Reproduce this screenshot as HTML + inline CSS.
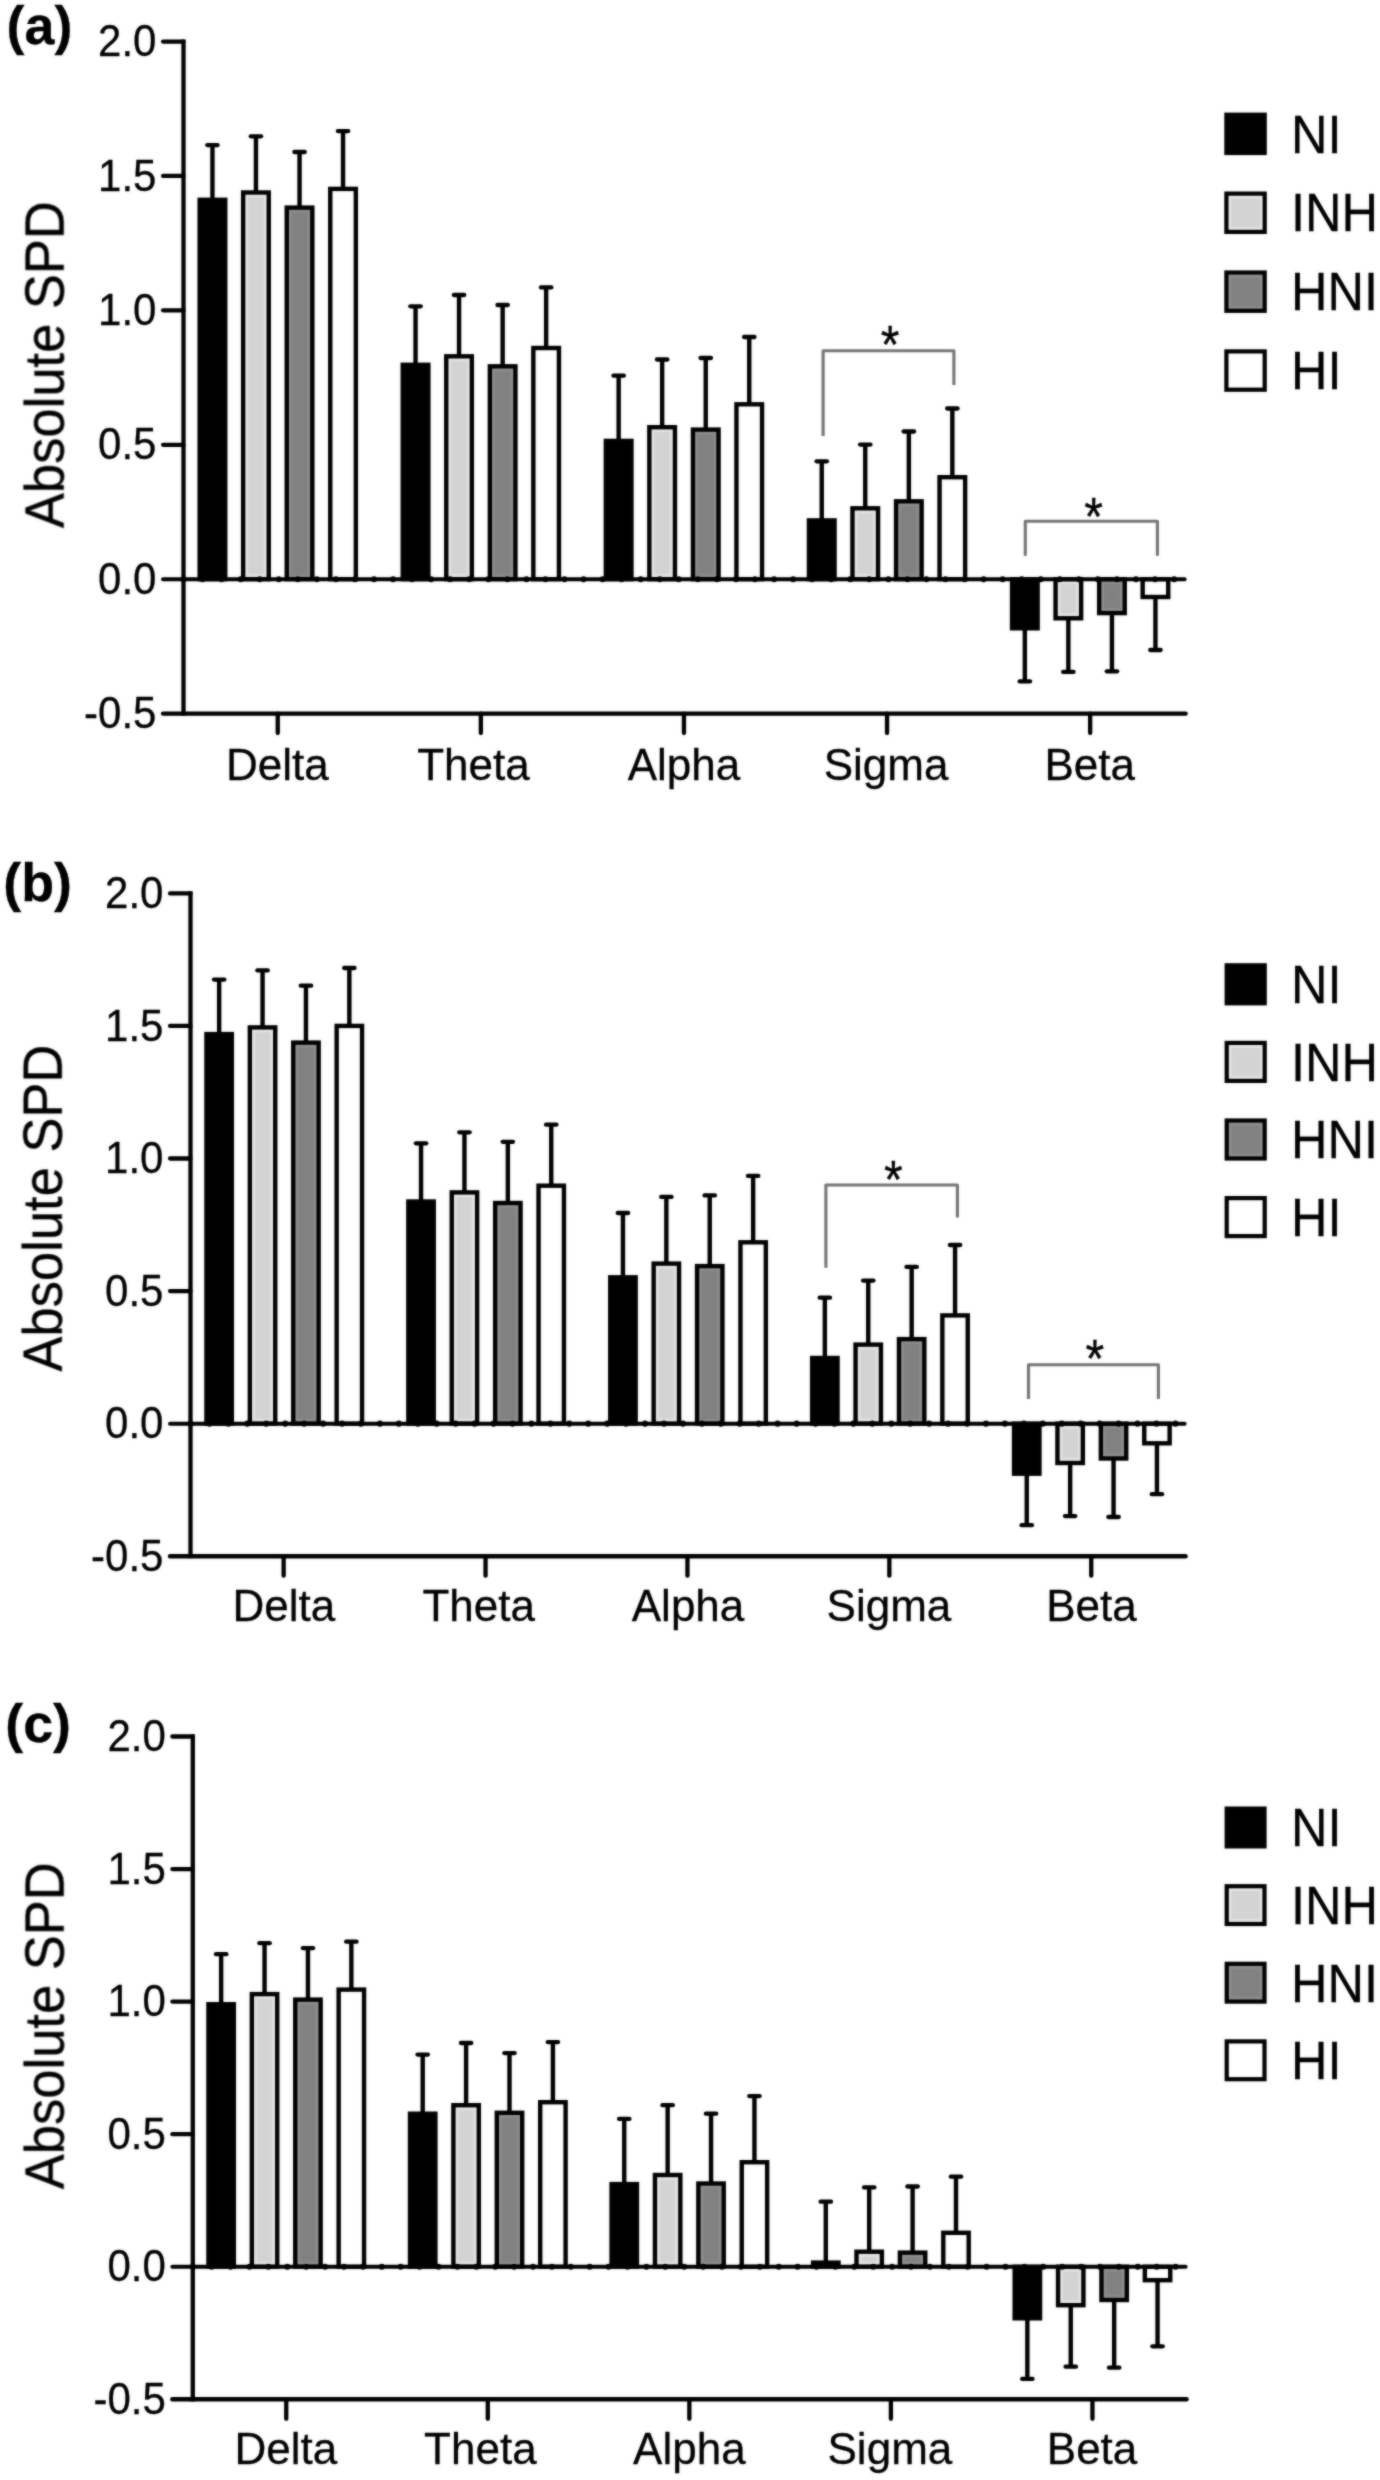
<!DOCTYPE html>
<html lang="en">
<head>
<meta charset="utf-8">
<title>Absolute SPD by frequency band</title>
<style>
html,body{margin:0;padding:0;background:#fff;}
body{width:1380px;height:2480px;overflow:hidden;}
svg{display:block;}
svg text{font-family:'Liberation Sans', sans-serif;stroke:#000;stroke-width:0.3px;}
</style>
</head>
<body>
<svg width="1380" height="2480" viewBox="0 0 1380 2480">
<defs><filter id="soft" x="0" y="0" width="100%" height="100%" filterUnits="userSpaceOnUse" color-interpolation-filters="sRGB"><feGaussianBlur in="SourceGraphic" stdDeviation="0.85" result="b"/><feComposite in="SourceGraphic" in2="b" operator="arithmetic" k1="0" k2="0.45" k3="0.55" k4="0"/></filter></defs>
<rect width="1380" height="2480" fill="#fff"/>
<g filter="url(#soft)">
<g>
<line x1="212.45" y1="579.19" x2="212.45" y2="145.1" stroke="#000" stroke-width="4.4"/>
<line x1="207.25" y1="145.1" x2="217.65" y2="145.1" stroke="#000" stroke-width="4.3" stroke-linecap="round"/>
<rect x="199.65" y="199.8" width="25.6" height="379.39" fill="#000000" stroke="#000" stroke-width="4.4"/>
<line x1="255.95" y1="579.19" x2="255.95" y2="136.3" stroke="#000" stroke-width="4.4"/>
<line x1="250.75" y1="136.3" x2="261.15" y2="136.3" stroke="#000" stroke-width="4.3" stroke-linecap="round"/>
<rect x="243.15" y="192.5" width="25.6" height="386.69" fill="#e6e6e6" stroke="#000" stroke-width="4.4"/>
<rect x="247.95" y="197.3" width="16" height="377.09" fill="#d3d3d3"/>
<line x1="299.55" y1="579.19" x2="299.55" y2="152" stroke="#000" stroke-width="4.4"/>
<line x1="294.35" y1="152" x2="304.75" y2="152" stroke="#000" stroke-width="4.3" stroke-linecap="round"/>
<rect x="286.75" y="207.6" width="25.6" height="371.59" fill="#8e8e8e" stroke="#000" stroke-width="4.4"/>
<rect x="291.55" y="212.4" width="16" height="361.99" fill="#818181"/>
<line x1="343.05" y1="579.19" x2="343.05" y2="131.1" stroke="#000" stroke-width="4.4"/>
<line x1="337.85" y1="131.1" x2="348.25" y2="131.1" stroke="#000" stroke-width="4.3" stroke-linecap="round"/>
<rect x="330.25" y="188.9" width="25.6" height="390.29" fill="#ffffff" stroke="#000" stroke-width="4.4"/>
<line x1="415.55" y1="579.19" x2="415.55" y2="306.3" stroke="#000" stroke-width="4.4"/>
<line x1="410.35" y1="306.3" x2="420.75" y2="306.3" stroke="#000" stroke-width="4.3" stroke-linecap="round"/>
<rect x="402.75" y="364.8" width="25.6" height="214.39" fill="#000000" stroke="#000" stroke-width="4.4"/>
<line x1="459.05" y1="579.19" x2="459.05" y2="295" stroke="#000" stroke-width="4.4"/>
<line x1="453.85" y1="295" x2="464.25" y2="295" stroke="#000" stroke-width="4.3" stroke-linecap="round"/>
<rect x="446.25" y="356.3" width="25.6" height="222.89" fill="#e6e6e6" stroke="#000" stroke-width="4.4"/>
<rect x="451.05" y="361.1" width="16" height="213.29" fill="#d3d3d3"/>
<line x1="502.65" y1="579.19" x2="502.65" y2="305" stroke="#000" stroke-width="4.4"/>
<line x1="497.45" y1="305" x2="507.85" y2="305" stroke="#000" stroke-width="4.3" stroke-linecap="round"/>
<rect x="489.85" y="366.3" width="25.6" height="212.89" fill="#8e8e8e" stroke="#000" stroke-width="4.4"/>
<rect x="494.65" y="371.1" width="16" height="203.29" fill="#818181"/>
<line x1="546.15" y1="579.19" x2="546.15" y2="287.4" stroke="#000" stroke-width="4.4"/>
<line x1="540.95" y1="287.4" x2="551.35" y2="287.4" stroke="#000" stroke-width="4.3" stroke-linecap="round"/>
<rect x="533.35" y="348" width="25.6" height="231.19" fill="#ffffff" stroke="#000" stroke-width="4.4"/>
<line x1="618.65" y1="579.19" x2="618.65" y2="375.7" stroke="#000" stroke-width="4.4"/>
<line x1="613.45" y1="375.7" x2="623.85" y2="375.7" stroke="#000" stroke-width="4.3" stroke-linecap="round"/>
<rect x="605.85" y="440.9" width="25.6" height="138.29" fill="#000000" stroke="#000" stroke-width="4.4"/>
<line x1="662.15" y1="579.19" x2="662.15" y2="359.5" stroke="#000" stroke-width="4.4"/>
<line x1="656.95" y1="359.5" x2="667.35" y2="359.5" stroke="#000" stroke-width="4.3" stroke-linecap="round"/>
<rect x="649.35" y="427.2" width="25.6" height="151.99" fill="#e6e6e6" stroke="#000" stroke-width="4.4"/>
<rect x="654.15" y="432" width="16" height="142.39" fill="#d3d3d3"/>
<line x1="705.75" y1="579.19" x2="705.75" y2="358" stroke="#000" stroke-width="4.4"/>
<line x1="700.55" y1="358" x2="710.95" y2="358" stroke="#000" stroke-width="4.3" stroke-linecap="round"/>
<rect x="692.95" y="429.6" width="25.6" height="149.59" fill="#8e8e8e" stroke="#000" stroke-width="4.4"/>
<rect x="697.75" y="434.4" width="16" height="139.99" fill="#818181"/>
<line x1="749.25" y1="579.19" x2="749.25" y2="337" stroke="#000" stroke-width="4.4"/>
<line x1="744.05" y1="337" x2="754.45" y2="337" stroke="#000" stroke-width="4.3" stroke-linecap="round"/>
<rect x="736.45" y="404.3" width="25.6" height="174.89" fill="#ffffff" stroke="#000" stroke-width="4.4"/>
<line x1="821.75" y1="579.19" x2="821.75" y2="461.3" stroke="#000" stroke-width="4.4"/>
<line x1="816.55" y1="461.3" x2="826.95" y2="461.3" stroke="#000" stroke-width="4.3" stroke-linecap="round"/>
<rect x="808.95" y="520.4" width="25.6" height="58.79" fill="#000000" stroke="#000" stroke-width="4.4"/>
<line x1="865.25" y1="579.19" x2="865.25" y2="444.6" stroke="#000" stroke-width="4.4"/>
<line x1="860.05" y1="444.6" x2="870.45" y2="444.6" stroke="#000" stroke-width="4.3" stroke-linecap="round"/>
<rect x="852.45" y="508.3" width="25.6" height="70.89" fill="#e6e6e6" stroke="#000" stroke-width="4.4"/>
<rect x="857.25" y="513.1" width="16" height="61.29" fill="#d3d3d3"/>
<line x1="908.85" y1="579.19" x2="908.85" y2="431.5" stroke="#000" stroke-width="4.4"/>
<line x1="903.65" y1="431.5" x2="914.05" y2="431.5" stroke="#000" stroke-width="4.3" stroke-linecap="round"/>
<rect x="896.05" y="501.3" width="25.6" height="77.89" fill="#8e8e8e" stroke="#000" stroke-width="4.4"/>
<rect x="900.85" y="506.1" width="16" height="68.29" fill="#818181"/>
<line x1="952.35" y1="579.19" x2="952.35" y2="408.5" stroke="#000" stroke-width="4.4"/>
<line x1="947.15" y1="408.5" x2="957.55" y2="408.5" stroke="#000" stroke-width="4.3" stroke-linecap="round"/>
<rect x="939.55" y="477.2" width="25.6" height="101.99" fill="#ffffff" stroke="#000" stroke-width="4.4"/>
<line x1="1024.85" y1="579.19" x2="1024.85" y2="681.4" stroke="#000" stroke-width="4.4"/>
<line x1="1019.65" y1="681.4" x2="1030.05" y2="681.4" stroke="#000" stroke-width="4.3" stroke-linecap="round"/>
<rect x="1012.05" y="579.19" width="25.6" height="49.11" fill="#000000" stroke="#000" stroke-width="4.4"/>
<line x1="1068.35" y1="579.19" x2="1068.35" y2="671.9" stroke="#000" stroke-width="4.4"/>
<line x1="1063.15" y1="671.9" x2="1073.55" y2="671.9" stroke="#000" stroke-width="4.3" stroke-linecap="round"/>
<rect x="1055.55" y="579.19" width="25.6" height="39.11" fill="#e6e6e6" stroke="#000" stroke-width="4.4"/>
<rect x="1060.35" y="583.99" width="16" height="29.51" fill="#d3d3d3"/>
<line x1="1111.95" y1="579.19" x2="1111.95" y2="671.3" stroke="#000" stroke-width="4.4"/>
<line x1="1106.75" y1="671.3" x2="1117.15" y2="671.3" stroke="#000" stroke-width="4.3" stroke-linecap="round"/>
<rect x="1099.15" y="579.19" width="25.6" height="33.91" fill="#8e8e8e" stroke="#000" stroke-width="4.4"/>
<rect x="1103.95" y="583.99" width="16" height="24.31" fill="#818181"/>
<line x1="1155.45" y1="579.19" x2="1155.45" y2="650" stroke="#000" stroke-width="4.4"/>
<line x1="1150.25" y1="650" x2="1160.65" y2="650" stroke="#000" stroke-width="4.3" stroke-linecap="round"/>
<rect x="1142.65" y="579.19" width="25.6" height="17.81" fill="#ffffff" stroke="#000" stroke-width="4.4"/>
<line x1="183.5" y1="579.19" x2="1184.6" y2="579.19" stroke="#000" stroke-width="6.1" stroke-linecap="round" stroke-dasharray="0 19.05"/>
<line x1="163.05" y1="579.19" x2="1184.6" y2="579.19" stroke="#000" stroke-width="4" stroke-linecap="round"/>
<line x1="183.5" y1="39.4" x2="183.5" y2="715.75" stroke="#000" stroke-width="4.3"/>
<line x1="163.05" y1="713.6" x2="1185.6" y2="713.6" stroke="#000" stroke-width="4.4" stroke-linecap="round"/>
<line x1="163.05" y1="41.55" x2="183.5" y2="41.55" stroke="#000" stroke-width="4.3" stroke-linecap="round"/>
<text transform="translate(156.5 56.15) scale(0.93 1)" font-size="45.2" text-anchor="end">2.0</text>
<line x1="163.05" y1="175.96" x2="183.5" y2="175.96" stroke="#000" stroke-width="4.3" stroke-linecap="round"/>
<text transform="translate(156.5 190.56) scale(0.93 1)" font-size="45.2" text-anchor="end">1.5</text>
<line x1="163.05" y1="310.37" x2="183.5" y2="310.37" stroke="#000" stroke-width="4.3" stroke-linecap="round"/>
<text transform="translate(156.5 324.97) scale(0.93 1)" font-size="45.2" text-anchor="end">1.0</text>
<line x1="163.05" y1="444.78" x2="183.5" y2="444.78" stroke="#000" stroke-width="4.3" stroke-linecap="round"/>
<text transform="translate(156.5 459.38) scale(0.93 1)" font-size="45.2" text-anchor="end">0.5</text>
<text transform="translate(156.5 593.79) scale(0.93 1)" font-size="45.2" text-anchor="end">0.0</text>
<text transform="translate(156.5 728.2) scale(0.93 1)" font-size="45.2" text-anchor="end">-0.5</text>
<line x1="277.75" y1="713.6" x2="277.75" y2="733.05" stroke="#000" stroke-width="4.3" stroke-linecap="round"/>
<text transform="translate(277.35 779.7) scale(1.01 1)" font-size="43.6" text-anchor="middle">Delta</text>
<line x1="480.85" y1="713.6" x2="480.85" y2="733.05" stroke="#000" stroke-width="4.3" stroke-linecap="round"/>
<text transform="translate(473.45 779.7) scale(1.01 1)" font-size="43.6" text-anchor="middle">Theta</text>
<line x1="683.95" y1="713.6" x2="683.95" y2="733.05" stroke="#000" stroke-width="4.3" stroke-linecap="round"/>
<text transform="translate(683.95 779.7) scale(1.01 1)" font-size="43.6" text-anchor="middle">Alpha</text>
<line x1="887.05" y1="713.6" x2="887.05" y2="733.05" stroke="#000" stroke-width="4.3" stroke-linecap="round"/>
<text transform="translate(886.05 779.7) scale(1.01 1)" font-size="43.6" text-anchor="middle">Sigma</text>
<line x1="1090.15" y1="713.6" x2="1090.15" y2="733.05" stroke="#000" stroke-width="4.3" stroke-linecap="round"/>
<text transform="translate(1089.75 779.7) scale(1.01 1)" font-size="43.6" text-anchor="middle">Beta</text>
<text transform="translate(63.5 364.6) scale(1.04 1) rotate(-90)" font-size="52.5" text-anchor="middle">Absolute SPD</text>
<text transform="translate(6.6 43.6) scale(1.02 1)" font-size="52.8" text-anchor="start" font-weight="bold">(a)</text>
<path d="M823.1 435.9 V350.8 H953.9 V385" fill="none" stroke="#747474" stroke-width="3.1" stroke-linejoin="round"/>
<text stroke="none" transform="translate(890.1 362.6) scale(0.9 1)" font-size="53.5" text-anchor="middle">*</text>
<path d="M1025.3 555.7 V521.3 H1157.4 V555.7" fill="none" stroke="#747474" stroke-width="3.1" stroke-linejoin="round"/>
<text stroke="none" transform="translate(1093.5 535.1) scale(0.9 1)" font-size="53.5" text-anchor="middle">*</text>
<rect x="1226.4" y="114.7" width="38.3" height="38.3" fill="#000000" stroke="#000" stroke-width="4.2"/>
<text transform="translate(1291 152.5) scale(0.94 1)" font-size="53.8" text-anchor="start">NI</text>
<rect x="1226.4" y="193.6" width="38.3" height="38.3" fill="#e6e6e6" stroke="#000" stroke-width="4.2"/>
<rect x="1231.1" y="198.3" width="28.9" height="28.9" fill="#d3d3d3"/>
<text transform="translate(1291 231.4) scale(0.94 1)" font-size="53.8" text-anchor="start">INH</text>
<rect x="1226.4" y="272.5" width="38.3" height="38.3" fill="#8e8e8e" stroke="#000" stroke-width="4.2"/>
<rect x="1231.1" y="277.2" width="28.9" height="28.9" fill="#818181"/>
<text transform="translate(1291 310.3) scale(0.94 1)" font-size="53.8" text-anchor="start">HNI</text>
<rect x="1226.4" y="351.4" width="38.3" height="38.3" fill="#ffffff" stroke="#000" stroke-width="4.2"/>
<text transform="translate(1291 389.2) scale(0.94 1)" font-size="53.8" text-anchor="start">HI</text>
</g>
<g>
<line x1="219.15" y1="1423.64" x2="219.15" y2="979.6" stroke="#000" stroke-width="4.4"/>
<line x1="213.95" y1="979.6" x2="224.35" y2="979.6" stroke="#000" stroke-width="4.3" stroke-linecap="round"/>
<rect x="206.45" y="1034.1" width="25.4" height="389.54" fill="#000000" stroke="#000" stroke-width="4.4"/>
<line x1="262.55" y1="1423.64" x2="262.55" y2="970.4" stroke="#000" stroke-width="4.4"/>
<line x1="257.35" y1="970.4" x2="267.75" y2="970.4" stroke="#000" stroke-width="4.3" stroke-linecap="round"/>
<rect x="249.85" y="1027.4" width="25.4" height="396.24" fill="#e6e6e6" stroke="#000" stroke-width="4.4"/>
<rect x="254.65" y="1032.2" width="15.8" height="386.64" fill="#d3d3d3"/>
<line x1="305.95" y1="1423.64" x2="305.95" y2="985.7" stroke="#000" stroke-width="4.4"/>
<line x1="300.75" y1="985.7" x2="311.15" y2="985.7" stroke="#000" stroke-width="4.3" stroke-linecap="round"/>
<rect x="293.25" y="1042.6" width="25.4" height="381.04" fill="#8e8e8e" stroke="#000" stroke-width="4.4"/>
<rect x="298.05" y="1047.4" width="15.8" height="371.44" fill="#818181"/>
<line x1="349.35" y1="1423.64" x2="349.35" y2="968" stroke="#000" stroke-width="4.4"/>
<line x1="344.15" y1="968" x2="354.55" y2="968" stroke="#000" stroke-width="4.3" stroke-linecap="round"/>
<rect x="336.65" y="1025.9" width="25.4" height="397.74" fill="#ffffff" stroke="#000" stroke-width="4.4"/>
<line x1="421.05" y1="1423.64" x2="421.05" y2="1143.3" stroke="#000" stroke-width="4.4"/>
<line x1="415.85" y1="1143.3" x2="426.25" y2="1143.3" stroke="#000" stroke-width="4.3" stroke-linecap="round"/>
<rect x="408.35" y="1201.5" width="25.4" height="222.14" fill="#000000" stroke="#000" stroke-width="4.4"/>
<line x1="464.45" y1="1423.64" x2="464.45" y2="1132.3" stroke="#000" stroke-width="4.4"/>
<line x1="459.25" y1="1132.3" x2="469.65" y2="1132.3" stroke="#000" stroke-width="4.3" stroke-linecap="round"/>
<rect x="451.75" y="1192.4" width="25.4" height="231.24" fill="#e6e6e6" stroke="#000" stroke-width="4.4"/>
<rect x="456.55" y="1197.2" width="15.8" height="221.64" fill="#d3d3d3"/>
<line x1="507.85" y1="1423.64" x2="507.85" y2="1141.8" stroke="#000" stroke-width="4.4"/>
<line x1="502.65" y1="1141.8" x2="513.05" y2="1141.8" stroke="#000" stroke-width="4.3" stroke-linecap="round"/>
<rect x="495.15" y="1203" width="25.4" height="220.64" fill="#8e8e8e" stroke="#000" stroke-width="4.4"/>
<rect x="499.95" y="1207.8" width="15.8" height="211.04" fill="#818181"/>
<line x1="551.25" y1="1423.64" x2="551.25" y2="1124.7" stroke="#000" stroke-width="4.4"/>
<line x1="546.05" y1="1124.7" x2="556.45" y2="1124.7" stroke="#000" stroke-width="4.3" stroke-linecap="round"/>
<rect x="538.55" y="1185.7" width="25.4" height="237.94" fill="#ffffff" stroke="#000" stroke-width="4.4"/>
<line x1="622.95" y1="1423.64" x2="622.95" y2="1213" stroke="#000" stroke-width="4.4"/>
<line x1="617.75" y1="1213" x2="628.15" y2="1213" stroke="#000" stroke-width="4.3" stroke-linecap="round"/>
<rect x="610.25" y="1277.3" width="25.4" height="146.34" fill="#000000" stroke="#000" stroke-width="4.4"/>
<line x1="666.35" y1="1423.64" x2="666.35" y2="1196.9" stroke="#000" stroke-width="4.4"/>
<line x1="661.15" y1="1196.9" x2="671.55" y2="1196.9" stroke="#000" stroke-width="4.3" stroke-linecap="round"/>
<rect x="653.65" y="1263.6" width="25.4" height="160.04" fill="#e6e6e6" stroke="#000" stroke-width="4.4"/>
<rect x="658.45" y="1268.4" width="15.8" height="150.44" fill="#d3d3d3"/>
<line x1="709.75" y1="1423.64" x2="709.75" y2="1195.4" stroke="#000" stroke-width="4.4"/>
<line x1="704.55" y1="1195.4" x2="714.95" y2="1195.4" stroke="#000" stroke-width="4.3" stroke-linecap="round"/>
<rect x="697.05" y="1266.1" width="25.4" height="157.54" fill="#8e8e8e" stroke="#000" stroke-width="4.4"/>
<rect x="701.85" y="1270.9" width="15.8" height="147.94" fill="#818181"/>
<line x1="753.15" y1="1423.64" x2="753.15" y2="1175.9" stroke="#000" stroke-width="4.4"/>
<line x1="747.95" y1="1175.9" x2="758.35" y2="1175.9" stroke="#000" stroke-width="4.3" stroke-linecap="round"/>
<rect x="740.45" y="1242.3" width="25.4" height="181.34" fill="#ffffff" stroke="#000" stroke-width="4.4"/>
<line x1="824.85" y1="1423.64" x2="824.85" y2="1297.7" stroke="#000" stroke-width="4.4"/>
<line x1="819.65" y1="1297.7" x2="830.05" y2="1297.7" stroke="#000" stroke-width="4.3" stroke-linecap="round"/>
<rect x="812.15" y="1358" width="25.4" height="65.64" fill="#000000" stroke="#000" stroke-width="4.4"/>
<line x1="868.25" y1="1423.64" x2="868.25" y2="1280.6" stroke="#000" stroke-width="4.4"/>
<line x1="863.05" y1="1280.6" x2="873.45" y2="1280.6" stroke="#000" stroke-width="4.3" stroke-linecap="round"/>
<rect x="855.55" y="1344.6" width="25.4" height="79.04" fill="#e6e6e6" stroke="#000" stroke-width="4.4"/>
<rect x="860.35" y="1349.4" width="15.8" height="69.44" fill="#d3d3d3"/>
<line x1="911.65" y1="1423.64" x2="911.65" y2="1266.9" stroke="#000" stroke-width="4.4"/>
<line x1="906.45" y1="1266.9" x2="916.85" y2="1266.9" stroke="#000" stroke-width="4.3" stroke-linecap="round"/>
<rect x="898.95" y="1339.1" width="25.4" height="84.54" fill="#8e8e8e" stroke="#000" stroke-width="4.4"/>
<rect x="903.75" y="1343.9" width="15.8" height="74.94" fill="#818181"/>
<line x1="955.05" y1="1423.64" x2="955.05" y2="1245" stroke="#000" stroke-width="4.4"/>
<line x1="949.85" y1="1245" x2="960.25" y2="1245" stroke="#000" stroke-width="4.3" stroke-linecap="round"/>
<rect x="942.35" y="1315.4" width="25.4" height="108.24" fill="#ffffff" stroke="#000" stroke-width="4.4"/>
<line x1="1026.75" y1="1423.64" x2="1026.75" y2="1525.2" stroke="#000" stroke-width="4.4"/>
<line x1="1021.55" y1="1525.2" x2="1031.95" y2="1525.2" stroke="#000" stroke-width="4.3" stroke-linecap="round"/>
<rect x="1014.05" y="1423.64" width="25.4" height="50.06" fill="#000000" stroke="#000" stroke-width="4.4"/>
<line x1="1070.15" y1="1423.64" x2="1070.15" y2="1516.1" stroke="#000" stroke-width="4.4"/>
<line x1="1064.95" y1="1516.1" x2="1075.35" y2="1516.1" stroke="#000" stroke-width="4.3" stroke-linecap="round"/>
<rect x="1057.45" y="1423.64" width="25.4" height="39.36" fill="#e6e6e6" stroke="#000" stroke-width="4.4"/>
<rect x="1062.25" y="1428.44" width="15.8" height="29.76" fill="#d3d3d3"/>
<line x1="1113.55" y1="1423.64" x2="1113.55" y2="1517" stroke="#000" stroke-width="4.4"/>
<line x1="1108.35" y1="1517" x2="1118.75" y2="1517" stroke="#000" stroke-width="4.3" stroke-linecap="round"/>
<rect x="1100.85" y="1423.64" width="25.4" height="34.86" fill="#8e8e8e" stroke="#000" stroke-width="4.4"/>
<rect x="1105.65" y="1428.44" width="15.8" height="25.26" fill="#818181"/>
<line x1="1156.95" y1="1423.64" x2="1156.95" y2="1494.2" stroke="#000" stroke-width="4.4"/>
<line x1="1151.75" y1="1494.2" x2="1162.15" y2="1494.2" stroke="#000" stroke-width="4.3" stroke-linecap="round"/>
<rect x="1144.25" y="1423.64" width="25.4" height="19.66" fill="#ffffff" stroke="#000" stroke-width="4.4"/>
<line x1="190.5" y1="1423.64" x2="1184.6" y2="1423.64" stroke="#000" stroke-width="6.1" stroke-linecap="round" stroke-dasharray="0 18.94"/>
<line x1="170.05" y1="1423.64" x2="1184.6" y2="1423.64" stroke="#000" stroke-width="4" stroke-linecap="round"/>
<line x1="190.5" y1="891.25" x2="190.5" y2="1558.35" stroke="#000" stroke-width="4.3"/>
<line x1="170.05" y1="1556.2" x2="1185.6" y2="1556.2" stroke="#000" stroke-width="4.4" stroke-linecap="round"/>
<line x1="170.05" y1="893.4" x2="190.5" y2="893.4" stroke="#000" stroke-width="4.3" stroke-linecap="round"/>
<text transform="translate(163.5 908) scale(0.93 1)" font-size="45.2" text-anchor="end">2.0</text>
<line x1="170.05" y1="1025.96" x2="190.5" y2="1025.96" stroke="#000" stroke-width="4.3" stroke-linecap="round"/>
<text transform="translate(163.5 1040.56) scale(0.93 1)" font-size="45.2" text-anchor="end">1.5</text>
<line x1="170.05" y1="1158.52" x2="190.5" y2="1158.52" stroke="#000" stroke-width="4.3" stroke-linecap="round"/>
<text transform="translate(163.5 1173.12) scale(0.93 1)" font-size="45.2" text-anchor="end">1.0</text>
<line x1="170.05" y1="1291.08" x2="190.5" y2="1291.08" stroke="#000" stroke-width="4.3" stroke-linecap="round"/>
<text transform="translate(163.5 1305.68) scale(0.93 1)" font-size="45.2" text-anchor="end">0.5</text>
<text transform="translate(163.5 1438.24) scale(0.93 1)" font-size="45.2" text-anchor="end">0.0</text>
<text transform="translate(163.5 1570.8) scale(0.93 1)" font-size="45.2" text-anchor="end">-0.5</text>
<line x1="283.65" y1="1556.2" x2="283.65" y2="1575.65" stroke="#000" stroke-width="4.3" stroke-linecap="round"/>
<text transform="translate(283.85 1620.7) scale(1.01 1)" font-size="43.6" text-anchor="middle">Delta</text>
<line x1="485.55" y1="1556.2" x2="485.55" y2="1575.65" stroke="#000" stroke-width="4.3" stroke-linecap="round"/>
<text transform="translate(478.75 1620.7) scale(1.01 1)" font-size="43.6" text-anchor="middle">Theta</text>
<line x1="687.45" y1="1556.2" x2="687.45" y2="1575.65" stroke="#000" stroke-width="4.3" stroke-linecap="round"/>
<text transform="translate(688.05 1620.7) scale(1.01 1)" font-size="43.6" text-anchor="middle">Alpha</text>
<line x1="889.35" y1="1556.2" x2="889.35" y2="1575.65" stroke="#000" stroke-width="4.3" stroke-linecap="round"/>
<text transform="translate(888.95 1620.7) scale(1.01 1)" font-size="43.6" text-anchor="middle">Sigma</text>
<line x1="1091.25" y1="1556.2" x2="1091.25" y2="1575.65" stroke="#000" stroke-width="4.3" stroke-linecap="round"/>
<text transform="translate(1091.45 1620.7) scale(1.01 1)" font-size="43.6" text-anchor="middle">Beta</text>
<text transform="translate(61.6 1208.1) scale(1.04 1) rotate(-90)" font-size="52.5" text-anchor="middle">Absolute SPD</text>
<text transform="translate(3.2 900.6) scale(1.02 1)" font-size="52.8" text-anchor="start" font-weight="bold">(b)</text>
<path d="M825.9 1267.8 V1185 H957.4 V1217.6" fill="none" stroke="#747474" stroke-width="3.1" stroke-linejoin="round"/>
<text stroke="none" transform="translate(893.4 1198.1) scale(0.9 1)" font-size="53.5" text-anchor="middle">*</text>
<path d="M1028.5 1398.9 V1364.8 H1158.4 V1398.9" fill="none" stroke="#747474" stroke-width="3.1" stroke-linejoin="round"/>
<text stroke="none" transform="translate(1094.8 1376.8) scale(0.9 1)" font-size="53.5" text-anchor="middle">*</text>
<rect x="1226.7" y="965.3" width="38" height="38" fill="#000000" stroke="#000" stroke-width="4.2"/>
<text transform="translate(1291 1003) scale(0.94 1)" font-size="53.8" text-anchor="start">NI</text>
<rect x="1226.7" y="1042.9" width="38" height="38" fill="#e6e6e6" stroke="#000" stroke-width="4.2"/>
<rect x="1231.4" y="1047.6" width="28.6" height="28.6" fill="#d3d3d3"/>
<text transform="translate(1291 1080.6) scale(0.94 1)" font-size="53.8" text-anchor="start">INH</text>
<rect x="1226.7" y="1120.5" width="38" height="38" fill="#8e8e8e" stroke="#000" stroke-width="4.2"/>
<rect x="1231.4" y="1125.2" width="28.6" height="28.6" fill="#818181"/>
<text transform="translate(1291 1158.2) scale(0.94 1)" font-size="53.8" text-anchor="start">HNI</text>
<rect x="1226.7" y="1198.1" width="38" height="38" fill="#ffffff" stroke="#000" stroke-width="4.2"/>
<text transform="translate(1291 1235.8) scale(0.94 1)" font-size="53.8" text-anchor="start">HI</text>
</g>
<g>
<line x1="221.15" y1="2266.74" x2="221.15" y2="1954.2" stroke="#000" stroke-width="4.4"/>
<line x1="215.95" y1="1954.2" x2="226.35" y2="1954.2" stroke="#000" stroke-width="4.3" stroke-linecap="round"/>
<rect x="208.45" y="2004.2" width="25.4" height="262.54" fill="#000000" stroke="#000" stroke-width="4.4"/>
<line x1="264.55" y1="2266.74" x2="264.55" y2="1943.2" stroke="#000" stroke-width="4.4"/>
<line x1="259.35" y1="1943.2" x2="269.75" y2="1943.2" stroke="#000" stroke-width="4.3" stroke-linecap="round"/>
<rect x="251.85" y="1994.1" width="25.4" height="272.64" fill="#e6e6e6" stroke="#000" stroke-width="4.4"/>
<rect x="256.65" y="1998.9" width="15.8" height="263.04" fill="#d3d3d3"/>
<line x1="307.95" y1="2266.74" x2="307.95" y2="1948.1" stroke="#000" stroke-width="4.4"/>
<line x1="302.75" y1="1948.1" x2="313.15" y2="1948.1" stroke="#000" stroke-width="4.3" stroke-linecap="round"/>
<rect x="295.25" y="1999.6" width="25.4" height="267.14" fill="#8e8e8e" stroke="#000" stroke-width="4.4"/>
<rect x="300.05" y="2004.4" width="15.8" height="257.54" fill="#818181"/>
<line x1="351.35" y1="2266.74" x2="351.35" y2="1941.7" stroke="#000" stroke-width="4.4"/>
<line x1="346.15" y1="1941.7" x2="356.55" y2="1941.7" stroke="#000" stroke-width="4.3" stroke-linecap="round"/>
<rect x="338.65" y="1989.6" width="25.4" height="277.14" fill="#ffffff" stroke="#000" stroke-width="4.4"/>
<line x1="422.7" y1="2266.74" x2="422.7" y2="2054.6" stroke="#000" stroke-width="4.4"/>
<line x1="417.5" y1="2054.6" x2="427.9" y2="2054.6" stroke="#000" stroke-width="4.3" stroke-linecap="round"/>
<rect x="410" y="2113.7" width="25.4" height="153.04" fill="#000000" stroke="#000" stroke-width="4.4"/>
<line x1="466.1" y1="2266.74" x2="466.1" y2="2043" stroke="#000" stroke-width="4.4"/>
<line x1="460.9" y1="2043" x2="471.3" y2="2043" stroke="#000" stroke-width="4.3" stroke-linecap="round"/>
<rect x="453.4" y="2105.2" width="25.4" height="161.54" fill="#e6e6e6" stroke="#000" stroke-width="4.4"/>
<rect x="458.2" y="2110" width="15.8" height="151.94" fill="#d3d3d3"/>
<line x1="509.5" y1="2266.74" x2="509.5" y2="2053.1" stroke="#000" stroke-width="4.4"/>
<line x1="504.3" y1="2053.1" x2="514.7" y2="2053.1" stroke="#000" stroke-width="4.3" stroke-linecap="round"/>
<rect x="496.8" y="2112.8" width="25.4" height="153.94" fill="#8e8e8e" stroke="#000" stroke-width="4.4"/>
<rect x="501.6" y="2117.6" width="15.8" height="144.34" fill="#818181"/>
<line x1="552.9" y1="2266.74" x2="552.9" y2="2042.1" stroke="#000" stroke-width="4.4"/>
<line x1="547.7" y1="2042.1" x2="558.1" y2="2042.1" stroke="#000" stroke-width="4.3" stroke-linecap="round"/>
<rect x="540.2" y="2102.2" width="25.4" height="164.54" fill="#ffffff" stroke="#000" stroke-width="4.4"/>
<line x1="624.25" y1="2266.74" x2="624.25" y2="2118.9" stroke="#000" stroke-width="4.4"/>
<line x1="619.05" y1="2118.9" x2="629.45" y2="2118.9" stroke="#000" stroke-width="4.3" stroke-linecap="round"/>
<rect x="611.55" y="2184.1" width="25.4" height="82.64" fill="#000000" stroke="#000" stroke-width="4.4"/>
<line x1="667.65" y1="2266.74" x2="667.65" y2="2105.2" stroke="#000" stroke-width="4.4"/>
<line x1="662.45" y1="2105.2" x2="672.85" y2="2105.2" stroke="#000" stroke-width="4.3" stroke-linecap="round"/>
<rect x="654.95" y="2175" width="25.4" height="91.74" fill="#e6e6e6" stroke="#000" stroke-width="4.4"/>
<rect x="659.75" y="2179.8" width="15.8" height="82.14" fill="#d3d3d3"/>
<line x1="711.05" y1="2266.74" x2="711.05" y2="2113.7" stroke="#000" stroke-width="4.4"/>
<line x1="705.85" y1="2113.7" x2="716.25" y2="2113.7" stroke="#000" stroke-width="4.3" stroke-linecap="round"/>
<rect x="698.35" y="2183.5" width="25.4" height="83.24" fill="#8e8e8e" stroke="#000" stroke-width="4.4"/>
<rect x="703.15" y="2188.3" width="15.8" height="73.64" fill="#818181"/>
<line x1="754.45" y1="2266.74" x2="754.45" y2="2096.1" stroke="#000" stroke-width="4.4"/>
<line x1="749.25" y1="2096.1" x2="759.65" y2="2096.1" stroke="#000" stroke-width="4.3" stroke-linecap="round"/>
<rect x="741.75" y="2162.2" width="25.4" height="104.54" fill="#ffffff" stroke="#000" stroke-width="4.4"/>
<line x1="825.8" y1="2266.74" x2="825.8" y2="2201.7" stroke="#000" stroke-width="4.4"/>
<line x1="820.6" y1="2201.7" x2="831" y2="2201.7" stroke="#000" stroke-width="4.3" stroke-linecap="round"/>
<rect x="813.1" y="2262.6" width="25.4" height="4.14" fill="#000000" stroke="#000" stroke-width="4.4"/>
<line x1="869.2" y1="2266.74" x2="869.2" y2="2187.4" stroke="#000" stroke-width="4.4"/>
<line x1="864" y1="2187.4" x2="874.4" y2="2187.4" stroke="#000" stroke-width="4.3" stroke-linecap="round"/>
<rect x="856.5" y="2251.7" width="25.4" height="15.04" fill="#e6e6e6" stroke="#000" stroke-width="4.4"/>
<rect x="861.3" y="2256.5" width="15.8" height="5.44" fill="#d3d3d3"/>
<line x1="912.6" y1="2266.74" x2="912.6" y2="2186.5" stroke="#000" stroke-width="4.4"/>
<line x1="907.4" y1="2186.5" x2="917.8" y2="2186.5" stroke="#000" stroke-width="4.3" stroke-linecap="round"/>
<rect x="899.9" y="2252.6" width="25.4" height="14.14" fill="#8e8e8e" stroke="#000" stroke-width="4.4"/>
<rect x="904.7" y="2257.4" width="15.8" height="4.54" fill="#818181"/>
<line x1="956" y1="2266.74" x2="956" y2="2176.7" stroke="#000" stroke-width="4.4"/>
<line x1="950.8" y1="2176.7" x2="961.2" y2="2176.7" stroke="#000" stroke-width="4.3" stroke-linecap="round"/>
<rect x="943.3" y="2232.8" width="25.4" height="33.94" fill="#ffffff" stroke="#000" stroke-width="4.4"/>
<line x1="1027.35" y1="2266.74" x2="1027.35" y2="2378.9" stroke="#000" stroke-width="4.4"/>
<line x1="1022.15" y1="2378.9" x2="1032.55" y2="2378.9" stroke="#000" stroke-width="4.3" stroke-linecap="round"/>
<rect x="1014.65" y="2266.74" width="25.4" height="51.56" fill="#000000" stroke="#000" stroke-width="4.4"/>
<line x1="1070.75" y1="2266.74" x2="1070.75" y2="2366.7" stroke="#000" stroke-width="4.4"/>
<line x1="1065.55" y1="2366.7" x2="1075.95" y2="2366.7" stroke="#000" stroke-width="4.3" stroke-linecap="round"/>
<rect x="1058.05" y="2266.74" width="25.4" height="38.46" fill="#e6e6e6" stroke="#000" stroke-width="4.4"/>
<rect x="1062.85" y="2271.54" width="15.8" height="28.86" fill="#d3d3d3"/>
<line x1="1114.15" y1="2266.74" x2="1114.15" y2="2367.7" stroke="#000" stroke-width="4.4"/>
<line x1="1108.95" y1="2367.7" x2="1119.35" y2="2367.7" stroke="#000" stroke-width="4.3" stroke-linecap="round"/>
<rect x="1101.45" y="2266.74" width="25.4" height="33.26" fill="#8e8e8e" stroke="#000" stroke-width="4.4"/>
<rect x="1106.25" y="2271.54" width="15.8" height="23.66" fill="#818181"/>
<line x1="1157.55" y1="2266.74" x2="1157.55" y2="2346.3" stroke="#000" stroke-width="4.4"/>
<line x1="1152.35" y1="2346.3" x2="1162.75" y2="2346.3" stroke="#000" stroke-width="4.3" stroke-linecap="round"/>
<rect x="1144.85" y="2266.74" width="25.4" height="13.46" fill="#ffffff" stroke="#000" stroke-width="4.4"/>
<line x1="192.8" y1="2266.74" x2="1185.6" y2="2266.74" stroke="#000" stroke-width="6.1" stroke-linecap="round" stroke-dasharray="0 18.9"/>
<line x1="172.35" y1="2266.74" x2="1185.6" y2="2266.74" stroke="#000" stroke-width="4" stroke-linecap="round"/>
<line x1="192.8" y1="1734.35" x2="192.8" y2="2401.45" stroke="#000" stroke-width="4.3"/>
<line x1="172.35" y1="2399.3" x2="1186.6" y2="2399.3" stroke="#000" stroke-width="4.4" stroke-linecap="round"/>
<line x1="172.35" y1="1736.5" x2="192.8" y2="1736.5" stroke="#000" stroke-width="4.3" stroke-linecap="round"/>
<text transform="translate(165.8 1751.1) scale(0.93 1)" font-size="45.2" text-anchor="end">2.0</text>
<line x1="172.35" y1="1869.06" x2="192.8" y2="1869.06" stroke="#000" stroke-width="4.3" stroke-linecap="round"/>
<text transform="translate(165.8 1883.66) scale(0.93 1)" font-size="45.2" text-anchor="end">1.5</text>
<line x1="172.35" y1="2001.62" x2="192.8" y2="2001.62" stroke="#000" stroke-width="4.3" stroke-linecap="round"/>
<text transform="translate(165.8 2016.22) scale(0.93 1)" font-size="45.2" text-anchor="end">1.0</text>
<line x1="172.35" y1="2134.18" x2="192.8" y2="2134.18" stroke="#000" stroke-width="4.3" stroke-linecap="round"/>
<text transform="translate(165.8 2148.78) scale(0.93 1)" font-size="45.2" text-anchor="end">0.5</text>
<text transform="translate(165.8 2281.34) scale(0.93 1)" font-size="45.2" text-anchor="end">0.0</text>
<text transform="translate(165.8 2413.9) scale(0.93 1)" font-size="45.2" text-anchor="end">-0.5</text>
<line x1="286.25" y1="2399.3" x2="286.25" y2="2418.75" stroke="#000" stroke-width="4.3" stroke-linecap="round"/>
<text transform="translate(285.85 2463.7) scale(1.01 1)" font-size="43.6" text-anchor="middle">Delta</text>
<line x1="487.8" y1="2399.3" x2="487.8" y2="2418.75" stroke="#000" stroke-width="4.3" stroke-linecap="round"/>
<text transform="translate(480.4 2463.7) scale(1.01 1)" font-size="43.6" text-anchor="middle">Theta</text>
<line x1="689.35" y1="2399.3" x2="689.35" y2="2418.75" stroke="#000" stroke-width="4.3" stroke-linecap="round"/>
<text transform="translate(689.35 2463.7) scale(1.01 1)" font-size="43.6" text-anchor="middle">Alpha</text>
<line x1="890.9" y1="2399.3" x2="890.9" y2="2418.75" stroke="#000" stroke-width="4.3" stroke-linecap="round"/>
<text transform="translate(889.9 2463.7) scale(1.01 1)" font-size="43.6" text-anchor="middle">Sigma</text>
<line x1="1092.45" y1="2399.3" x2="1092.45" y2="2418.75" stroke="#000" stroke-width="4.3" stroke-linecap="round"/>
<text transform="translate(1092.05 2463.7) scale(1.01 1)" font-size="43.6" text-anchor="middle">Beta</text>
<text transform="translate(63.5 2025.7) scale(1.04 1) rotate(-90)" font-size="52.5" text-anchor="middle">Absolute SPD</text>
<text transform="translate(5.2 1741.5) scale(1.02 1)" font-size="52.8" text-anchor="start" font-weight="bold">(c)</text>
<rect x="1226.7" y="1808.6" width="37.8" height="37.8" fill="#000000" stroke="#000" stroke-width="4.2"/>
<text transform="translate(1291 1846.3) scale(0.94 1)" font-size="53.8" text-anchor="start">NI</text>
<rect x="1226.7" y="1886.2" width="37.8" height="37.8" fill="#e6e6e6" stroke="#000" stroke-width="4.2"/>
<rect x="1231.4" y="1890.9" width="28.4" height="28.4" fill="#d3d3d3"/>
<text transform="translate(1291 1923.9) scale(0.94 1)" font-size="53.8" text-anchor="start">INH</text>
<rect x="1226.7" y="1963.8" width="37.8" height="37.8" fill="#8e8e8e" stroke="#000" stroke-width="4.2"/>
<rect x="1231.4" y="1968.5" width="28.4" height="28.4" fill="#818181"/>
<text transform="translate(1291 2001.5) scale(0.94 1)" font-size="53.8" text-anchor="start">HNI</text>
<rect x="1226.7" y="2041.4" width="37.8" height="37.8" fill="#ffffff" stroke="#000" stroke-width="4.2"/>
<text transform="translate(1291 2079.1) scale(0.94 1)" font-size="53.8" text-anchor="start">HI</text>
</g>
</g>
</svg>
</body>
</html>
